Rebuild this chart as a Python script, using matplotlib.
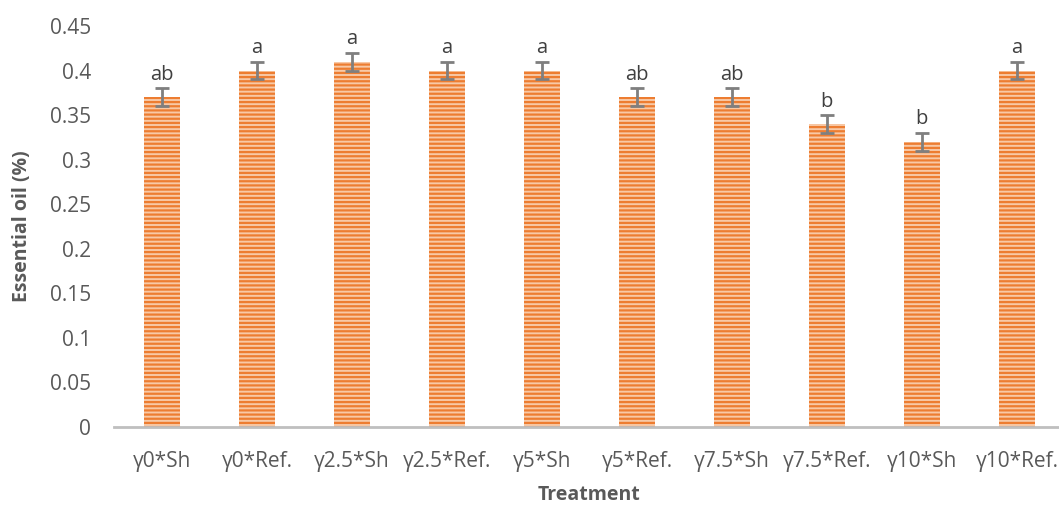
import numpy as np
import matplotlib.pyplot as plt

# data
treatments = ["γ0*Sh", "γ0*Ref.", "γ2.5*Sh", "γ2.5*Ref.", "γ5*Sh",
              "γ5*Ref.", "γ7.5*Sh", "γ7.5*Ref.", "γ10*Sh", "γ10*Ref."]
oil = [0.37, 0.40, 0.41, 0.40, 0.40, 0.37, 0.37, 0.34, 0.32, 0.40]
err = [0.01] * 10
letters = ["ab", "a", "a", "a", "a", "ab", "ab", "b", "b", "a"]

plt.rcParams['font.family'] = ['Open Sans', 'DejaVu Sans']
plt.rcParams['hatch.linewidth'] = 1.6

txt = '#595959'
fig = plt.figure(figsize=(10.59, 5.07), dpi=100)
ax = fig.add_axes([0.1081, 0.1578, 0.897, 0.791])

x = np.arange(len(treatments))
ax.bar(x, oil, width=0.38, color='#f8c9a6', edgecolor='#ED7D31',
       linewidth=0, hatch='----')
ax.errorbar(x, oil, yerr=err, fmt='none', ecolor='#7f7f7f',
            elinewidth=2, capsize=5, capthick=2)

# significance letters above the error bars
for xi, v, e, lab in zip(x, oil, err, letters):
    ax.text(xi, v + e + 0.004, lab, ha='center', va='bottom',
            fontsize=14.5, color='#404040')

ax.set_xlim(-0.5, len(treatments) - 0.5)
ax.set_ylim(0, 0.45)
ax.set_yticks(np.arange(0, 0.451, 0.05))
ax.set_yticklabels(['0', '0.05', '0.1', '0.15', '0.2', '0.25',
                    '0.3', '0.35', '0.4', '0.45'])
ax.set_xticks(x)
ax.set_xticklabels(treatments)
ax.tick_params(axis='both', length=0, labelsize=15, labelcolor=txt)
ax.tick_params(axis='y', pad=17)
ax.tick_params(axis='x', pad=17)

for s in ['top', 'right', 'left']:
    ax.spines[s].set_visible(False)
ax.spines['bottom'].set_color('#bfbfbf')
ax.spines['bottom'].set_linewidth(2)

ax.set_xlabel('Treatment', fontsize=14, fontweight='bold', color=txt, labelpad=10)
ax.set_ylabel('Essential oil (%)', fontsize=14, fontweight='bold', color=txt, labelpad=13)

fig.savefig('out.png', dpi=100)
